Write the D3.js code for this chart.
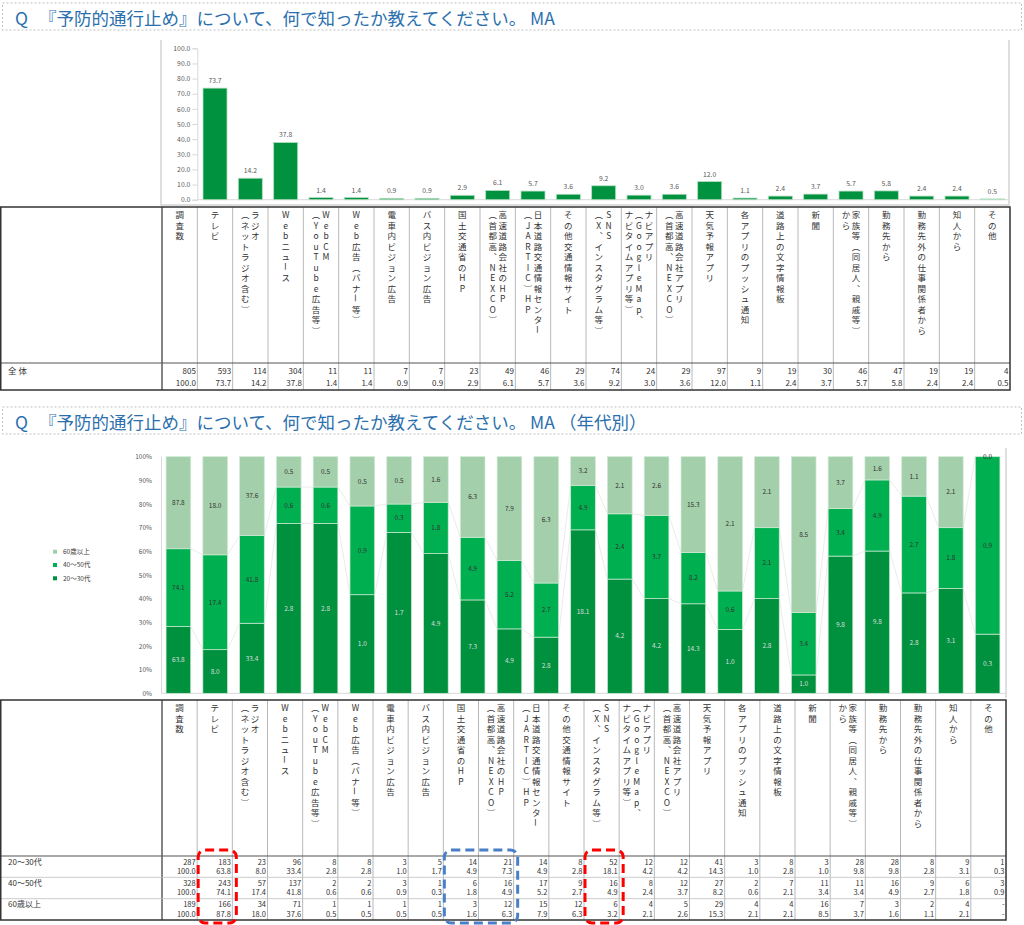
<!DOCTYPE html>
<html>
<head>
<meta charset="utf-8">
<script src="https://cdn.jsdelivr.net/npm/d3@7"></script>
<style>
  body { margin: 0; background: #fff; }
  svg { display: block; }
  text { font-family: "Noto Sans CJK JP", "Noto Sans", sans-serif; }
</style>
</head>
<body>
<div id="chart"></div>
<script>
// "|" marks where a vertical header label breaks into the next column
const categories = [
  "テレビ",
  "ラジオ|（ネットラジオ含む）",
  "Webニュース",
  "WebCM|（YouTube広告等）",
  "Web広告（バナー等）",
  "電車内ビジョン広告",
  "バス内ビジョン広告",
  "国土交通省のHP",
  "高速道路会社のHP|（首都高、NEXCO）",
  "日本道路交通情報センター|（JARTIC）HP",
  "その他交通情報サイト",
  "SNS|（X、インスタグラム等）",
  "ナビアプリ|（GoogleMap、|ナビタイムアプリ等）",
  "高速道路会社アプリ|（首都高、NEXCO）",
  "天気予報アプリ",
  "各アプリのプッシュ通知",
  "道路上の文字情報板",
  "新聞",
  "家族等（同居人、親戚等）|から",
  "勤務先から",
  "勤務先外の仕事関係者から",
  "知人から",
  "その他"
];

const totalN = 805;
const totalCounts = [593, 114, 304, 11, 11, 7, 7, 23, 49, 46, 29, 74, 24, 29, 97, 9, 19, 30, 46, 47, 19, 19, 4];
const totalPct = [73.7, 14.2, 37.8, 1.4, 1.4, 0.9, 0.9, 2.9, 6.1, 5.7, 3.6, 9.2, 3.0, 3.6, 12.0, 1.1, 2.4, 3.7, 5.7, 5.8, 2.4, 2.4, 0.5];

const ageGroups = ["20～30代", "40～50代", "60歳以上"];
const ageN = [287, 328, 189];
const counts20s = [183, 23, 96, 8, 8, 3, 5, 14, 21, 14, 8, 52, 12, 12, 41, 3, 8, 3, 28, 28, 8, 9, 1];
const pct20s = [63.8, 8.0, 33.4, 2.8, 2.8, 1.0, 1.7, 4.9, 7.3, 4.9, 2.8, 18.1, 4.2, 4.2, 14.3, 1.0, 2.8, 1.0, 9.8, 9.8, 2.8, 3.1, 0.3];
const counts40s = [243, 57, 137, 2, 2, 3, 1, 6, 16, 17, 9, 16, 8, 12, 27, 2, 7, 11, 11, 16, 9, 6, 3];
const pct40s = [74.1, 17.4, 41.8, 0.6, 0.6, 0.9, 0.3, 1.8, 4.9, 5.2, 2.7, 4.9, 2.4, 3.7, 8.2, 0.6, 2.1, 3.4, 3.4, 4.9, 2.7, 1.8, 0.9];
const counts60s = [166, 34, 71, 1, 1, 1, 1, 3, 12, 15, 12, 6, 4, 5, 29, 4, 4, 16, 7, 3, 2, 4, null];
const pct60s = [87.8, 18.0, 37.6, 0.5, 0.5, 0.5, 0.5, 1.6, 6.3, 7.9, 6.3, 3.2, 2.1, 2.6, 15.3, 2.1, 2.1, 8.5, 3.7, 1.6, 1.1, 2.1, 0.0];

const topTicks = [0, 10, 20, 30, 40, 50, 60, 70, 80, 90, 100];
const bottomTicks = [0, 0.1, 0.2, 0.3, 0.4, 0.5, 0.6, 0.7, 0.8, 0.9, 1];

// highlighted columns in the age table: [first index, last index, colour]
const highlights = [[0, 0, "#ff0000"], [7, 8, "#4a7fc8"], [11, 11, "#ff0000"]];

const ageColors = ["#00913f", "#00b050", "#a3d0aa"];
const titleColor = "#2b70ad";

// vertical forms for punctuation in the upright header text
const verticalForms = { "、": "\uFE11", "。": "\uFE12", "（": "\uFE35", "）": "\uFE36" };

const svg = d3.select("#chart").append("svg")
  .attr("width", 1024)
  .attr("height", 925);

const columns = ["調査数", ...categories];

function drawTitle(y0, text) {
  svg.append("rect")
    .attr("x", 2.5).attr("y", y0).attr("width", 1019).attr("height", 27)
    .attr("fill", "none").attr("stroke", "#bfbfbf").attr("stroke-dasharray", "2,2");
  svg.append("text").attr("x", 15).attr("y", y0 + 22)
    .attr("font-size", 17.5).attr("fill", titleColor).text("Q");
  svg.append("text").attr("x", 39).attr("y", y0 + 22)
    .attr("font-size", 17.5).attr("fill", titleColor).text(text);
}

function drawVerticalHeader(g, col, top) {
  columns.forEach(name => {
    const lines = name.split("|");
    const cx = col(name) + col.bandwidth() / 2;
    lines.forEach((line, j) => {
      const lx = cx + ((lines.length - 1) / 2 - j) * 10;
      Array.from(line).forEach((ch, k) => {
        const cy = top + 7 + k * 10.5;
        let tx = `translate(${lx},${cy})`;
        if ("ー～".includes(ch)) tx += " rotate(90)";
        g.append("text")
          .attr("transform", tx)
          .attr("font-size", 8.5)
          .attr("fill", "#333")
          .attr("text-anchor", "middle")
          .attr("dominant-baseline", "central")
          .text(verticalForms[ch] || ch);
      });
    });
  });
}

function drawTableGrid(g, col, top, headBottom, rowLines, bottom) {
  const right = col.range()[1];
  columns.forEach((name, i) => {
    g.append("line")
      .attr("x1", col(name)).attr("x2", col(name))
      .attr("y1", top).attr("y2", bottom)
      .attr("stroke", i === 0 ? "#333" : "#a6a6a6")
      .attr("stroke-width", i === 0 ? 1.2 : 0.8);
  });
  rowLines.forEach(y => {
    g.append("line").attr("x1", 0.5).attr("x2", right).attr("y1", y).attr("y2", y)
      .attr("stroke", "#bfbfbf").attr("stroke-width", 0.8);
  });
  g.append("line").attr("x1", 0.5).attr("x2", right).attr("y1", headBottom).attr("y2", headBottom)
    .attr("stroke", "#555").attr("stroke-width", 1.2);
  g.append("rect").attr("x", 0.75).attr("y", top).attr("width", right - 0.75).attr("height", bottom - top)
    .attr("fill", "none").attr("stroke", "#333").attr("stroke-width", 1.5);
}

// ---------- top: overall bar chart ----------
drawTitle(3, "『予防的通行止め』について、何で知ったか教えてください。 MA");

const colTop = d3.scaleBand().domain(columns).range([162, 1010]);
const xTop = d3.scaleBand().domain(categories)
  .range([colTop(categories[0]), 1010]).paddingInner(0.32).paddingOuter(0.16);
const yTop = d3.scaleLinear().domain([0, 100]).range([199.7, 48.3]);

const topChart = svg.append("g");
topChart.append("path")
  .attr("d", "M161,40V205H1009V40")
  .attr("fill", "none").attr("stroke", "#d4d4d4").attr("stroke-width", 1.5);

topChart.append("g")
  .attr("transform", `translate(${colTop(categories[0])},0)`)
  .call(d3.axisLeft(yTop).tickValues(topTicks).tickFormat(d3.format(".1f")).tickSize(5).tickPadding(2))
  .call(g => g.selectAll("line, path").attr("stroke", "#d9d9d9"))
  .call(g => g.selectAll("text").attr("font-size", 6.8).attr("fill", "#595959")
    .attr("font-family", "Liberation Sans, Arial, sans-serif"));
topChart.append("line")
  .attr("x1", colTop(categories[0])).attr("x2", 1009)
  .attr("y1", yTop(0)).attr("y2", yTop(0)).attr("stroke", "#d9d9d9");

topChart.selectAll("rect.bar").data(categories).join("rect")
  .attr("class", "bar")
  .attr("x", d => xTop(d))
  .attr("width", xTop.bandwidth())
  .attr("y", (d, i) => yTop(totalPct[i]))
  .attr("height", (d, i) => yTop(0) - yTop(totalPct[i]))
  .attr("fill", "#00923f").attr("stroke", "#b6dec2").attr("stroke-width", 0.8);

topChart.selectAll("text.val").data(categories).join("text")
  .attr("class", "val")
  .attr("x", d => xTop(d) + xTop.bandwidth() / 2)
  .attr("y", (d, i) => yTop(totalPct[i]) - 5)
  .attr("text-anchor", "middle")
  .attr("font-size", 6.8).attr("fill", "#595959")
  .attr("font-family", "Liberation Sans, Arial, sans-serif")
  .text((d, i) => totalPct[i].toFixed(1));

// ---------- top: overall table ----------
const topTable = svg.append("g");
const tTop = 207, tHead = 363, tBottom = 390;
drawTableGrid(topTable, colTop, tTop, tHead, [], tBottom);
drawVerticalHeader(topTable, colTop, tTop);

topTable.append("text").attr("x", 8).attr("y", tHead + 11)
  .attr("font-size", 8.5).attr("fill", "#333").text("全 体");
const topCounts = [totalN, ...totalCounts];
const topPcts = [100, ...totalPct];
columns.forEach((name, i) => {
  const xr = colTop(name) + colTop.bandwidth() - 1.5;
  topTable.append("text").attr("x", xr).attr("y", tHead + 11)
    .attr("text-anchor", "end").attr("font-size", 8).attr("fill", "#333")
    .text(topCounts[i]);
  topTable.append("text").attr("x", xr).attr("y", tHead + 23)
    .attr("text-anchor", "end").attr("font-size", 8).attr("fill", "#333")
    .text(topPcts[i].toFixed(1));
});

// ---------- bottom: stacked 100% chart by age ----------
drawTitle(407, "『予防的通行止め』について、何で知ったか教えてください。 MA （年代別）");

const agePct = [pct20s, pct40s, pct60s];
const ageCounts = [counts20s, counts40s, counts60s];
const stackRows = categories.map((c, i) => {
  const row = { cat: c };
  ageGroups.forEach((a, k) => { row[a] = agePct[k][i]; });
  return row;
});
const series = d3.stack().keys(ageGroups).offset(d3.stackOffsetExpand)(stackRows);

const xBot = d3.scaleBand().domain(categories).range([160, 1006]).paddingInner(0.33).paddingOuter(0.165);
const yBot = d3.scaleLinear().domain([0, 1]).range([693.3, 456.7]);

const botChart = svg.append("g");
botChart.append("line").attr("x1", 1006).attr("x2", 1006).attr("y1", 448).attr("y2", 698)
  .attr("stroke", "#d4d4d4").attr("stroke-width", 1.5);

botChart.append("g")
  .attr("transform", "translate(161,0)")
  .call(d3.axisLeft(yBot).tickValues(bottomTicks).tickFormat(d3.format(".0%")).tickSize(0).tickPadding(9))
  .call(g => g.selectAll("path").attr("stroke", "#d9d9d9"))
  .call(g => g.selectAll("text").attr("font-size", 6.5).attr("fill", "#595959")
    .attr("font-family", "Liberation Sans, Arial, sans-serif"));
botChart.append("line").attr("x1", 161).attr("x2", 1006)
  .attr("y1", yBot(0)).attr("y2", yBot(0)).attr("stroke", "#d9d9d9");

// series lines joining segment tops of neighbouring bars
[0, 1].forEach(k => {
  for (let i = 0; i < categories.length - 1; i++) {
    botChart.append("line")
      .attr("x1", xBot(categories[i]) + xBot.bandwidth())
      .attr("x2", xBot(categories[i + 1]))
      .attr("y1", yBot(series[k][i][1]))
      .attr("y2", yBot(series[k][i + 1][1]))
      .attr("stroke", "#e3e3e3").attr("stroke-width", 0.7);
  }
});

const layers = botChart.selectAll("g.layer").data(series).join("g")
  .attr("class", "layer")
  .attr("fill", (d, k) => ageColors[k]);

layers.selectAll("rect").data(d => d).join("rect")
  .attr("x", d => xBot(d.data.cat))
  .attr("width", xBot.bandwidth())
  .attr("y", d => yBot(d[1]))
  .attr("height", d => yBot(d[0]) - yBot(d[1]))
  .attr("stroke", "#cfe9d5").attr("stroke-width", 0.7);

series.forEach((s, k) => {
  botChart.selectAll(`text.lab${k}`).data(s).join("text")
    .attr("x", d => xBot(d.data.cat) + xBot.bandwidth() / 2)
    .attr("y", d => yBot((d[0] + d[1]) / 2))
    .attr("dy", "0.35em")
    .attr("text-anchor", "middle")
    .attr("font-size", 6.5)
    .attr("font-family", "Liberation Sans, Arial, sans-serif")
    .attr("fill", k === 0 ? "#dcdcdc" : "#333")
    .text((d, i) => agePct[k][i].toFixed(1));
});

// legend, top entry is the oldest group
const legend = botChart.append("g").attr("transform", "translate(53,551.7)");
ageGroups.slice().reverse().forEach((a, j) => {
  const k = ageGroups.length - 1 - j;
  legend.append("rect").attr("x", 0).attr("y", j * 13.3 - 2).attr("width", 4).attr("height", 4)
    .attr("fill", ageColors[k]);
  legend.append("text").attr("x", 10).attr("y", j * 13.3).attr("dy", "0.35em")
    .attr("font-size", 6.5).attr("fill", "#404040").text(a);
});

// ---------- bottom: age table ----------
const colBot = d3.scaleBand().domain(columns).range([162, 1006]);
const bTop = 700, bHead = 856, bBottom = 920;
const rowH = (bBottom - bHead) / ageGroups.length;
const rowTops = ageGroups.map((a, k) => bHead + k * rowH);
const botTable = svg.append("g");
drawTableGrid(botTable, colBot, bTop, bHead, rowTops.slice(1), bBottom);
drawVerticalHeader(botTable, colBot, bTop);

ageGroups.forEach((a, k) => {
  const y0 = rowTops[k];
  botTable.append("text").attr("x", 8).attr("y", y0 + 8.5)
    .attr("font-size", 8).attr("fill", "#333").text(a);
  const cnts = [ageN[k], ...ageCounts[k]];
  const pcts = [100, ...agePct[k]];
  columns.forEach((name, i) => {
    const xr = colBot(name) + colBot.bandwidth() - 1.5;
    const missing = cnts[i] === null;
    botTable.append("text").attr("x", xr).attr("y", y0 + 8.5)
      .attr("text-anchor", "end").attr("font-size", 7.5).attr("fill", "#333")
      .text(missing ? "-" : cnts[i]);
    botTable.append("text").attr("x", xr).attr("y", y0 + 18)
      .attr("text-anchor", "end").attr("font-size", 7.5).attr("fill", "#333")
      .text(missing ? "-" : pcts[i].toFixed(1));
  });
});

// dashed highlight boxes over the age table
highlights.forEach(([from, to, color]) => {
  const x0 = colBot(categories[from]) + 1;
  const x1 = colBot(categories[to]) + colBot.bandwidth() + 4;
  svg.append("rect")
    .attr("x", x0).attr("y", bHead - 6)
    .attr("width", x1 - x0).attr("height", bBottom + 3 - (bHead - 6))
    .attr("rx", 7)
    .attr("fill", "none").attr("stroke", color)
    .attr("stroke-width", 3).attr("stroke-dasharray", "9,5");
});
</script>
</body>
</html>
